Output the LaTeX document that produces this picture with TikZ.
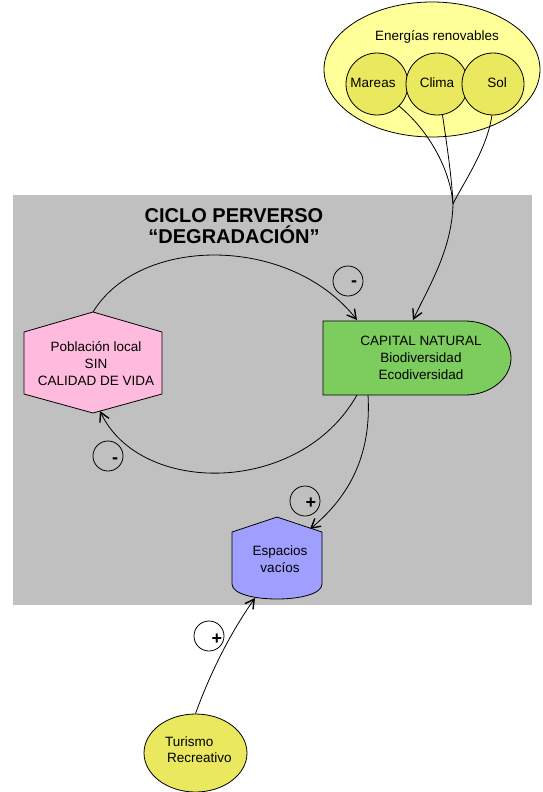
\documentclass[tikz,border=0pt]{standalone}
\usepackage{fontspec}
\setmainfont{Liberation Sans}
\usetikzlibrary{arrows.meta,shapes.geometric}
\definecolor{gris}{HTML}{C0C0C0}
\definecolor{amarclaro}{HTML}{FFFF99}
\definecolor{amar}{HTML}{EAE85E}
\definecolor{verde}{HTML}{7DCC5E}
\definecolor{rosa}{HTML}{FFBBDD}
\definecolor{lila}{HTML}{9F9FFF}
\begin{document}
\begin{tikzpicture}[x=1pt,y=-1pt,
  font=\fontsize{13.5}{17}\selectfont,
  shapeline/.style={draw=black,line width=0.8pt},
  conn/.style={line width=0.8pt,-{Straight Barb[length=9pt,width=10pt,line width=1.4pt]}},
  plain/.style={line width=0.8pt},
  signc/.style={circle,draw=black,line width=0.8pt,minimum size=30pt,inner sep=0pt},
  signt/.style={font=\fontsize{18}{18}\selectfont\bfseries,inner sep=0pt},
  txt/.style={align=center,inner sep=0pt}]
\useasboundingbox (0,0) rectangle (542,792);
% background panel
\fill[gris] (13,195) rectangle (532,605);
% energies
\node[ellipse,shapeline,fill=amarclaro,minimum width=216pt,minimum height=135pt,inner sep=0pt] (ener) at (432,69.5) {};
\node[txt] (enertxt) at (437,37) {Energías renovables};
\node[circle,shapeline,fill=amar,minimum size=62pt,inner sep=0pt] (mareas) at (377,84) {};
\node[circle,shapeline,fill=amar,minimum size=62pt,inner sep=0pt] (clima) at (437,84) {};
\node[circle,shapeline,fill=amar,minimum size=62pt,inner sep=0pt] (sol) at (493,84) {};
\node[txt] (mareastxt) at (373,83) {Mareas};
\node[txt] (climatxt) at (437,83) {Clima};
\node[txt] (soltxt) at (497,83) {Sol};
\coordinate (J) at (453,204);
% title
\node[txt,font=\fontsize{20}{21}\selectfont\bfseries] (title) at (234,226) {CICLO PERVERSO\\“DEGRADACIÓN”};
% hexagon
\draw[shapeline,fill=rosa] (93,312) -- (162,332) -- (162,394) -- (93,413) -- (24,394) -- (24,332) -- cycle;
\coordinate (hexTop) at (93,312);
\coordinate (hexBot) at (100,411);
\node[txt] (pob) at (96,364) {Población local\\SIN\\CALIDAD DE VIDA};
% capital natural
\draw[shapeline,fill=verde] (323,321) -- (465,321) arc[start angle=-90,end angle=90,x radius=46,y radius=37] -- (323,395) -- cycle;
\coordinate (capIn1) at (357,320);
\coordinate (capIn2) at (413,320);
\coordinate (capOut1) at (357,395);
\coordinate (capOut2) at (368,395);
\node[txt] (cap) at (421,358) {CAPITAL NATURAL\\Biodiversidad\\Ecodiversidad};
% espacios vacios
\draw[shapeline,fill=lila] (232,532) -- (277,517) -- (322,532) -- (322,584) .. controls (322,604) and (232,604) .. (232,584) -- cycle;
\coordinate (espIn) at (310,529);
\coordinate (espBot) at (255,598);
\node[txt] (esp) at (280,559) {Espacios\\vacíos};
% turismo
\node[ellipse,shapeline,fill=amar,minimum width=103pt,minimum height=78pt,inner sep=0pt] (tur) at (195.5,753) {};
\node[anchor=west,inner sep=0pt] (tur1) at (165,742) {Turismo};
\node[anchor=west,inner sep=0pt] (tur2) at (167,758) {Recreativo};
% connectors
\draw[plain] (mareas.-45) .. controls (428,130) and (450,168) .. (J);
\draw[plain] (clima.-80) .. controls (447,145) and (452,180) .. (J);
\draw[plain] (sol.-92) .. controls (487,150) and (462,185) .. (J);
\draw[conn] (J) .. controls (452,250) and (428,288) .. (capIn2);
\draw[conn] (hexTop) .. controls (140,235) and (290,235) .. (capIn1);
\draw[conn] (capOut1) .. controls (300,496) and (140,496) .. (hexBot);
\draw[conn] (capOut2) .. controls (372,460) and (345,500) .. (espIn);
\draw[conn] (tur.north) .. controls (215,660) and (238,622) .. (espBot);
% signs
\node[signc] (s1) at (348,281) {};
\node[signt] (s1t) at (354,284) {-};
\node[signc] (s2) at (108,456) {};
\node[signt] (s2t) at (115,461) {-};
\node[signc] (s3) at (305,501) {};
\node[signt] (s3t) at (311,503) {+};
\node[signc] (s4) at (209,636) {};
\node[signt] (s4t) at (217,639) {+};
\end{tikzpicture}
\end{document}
